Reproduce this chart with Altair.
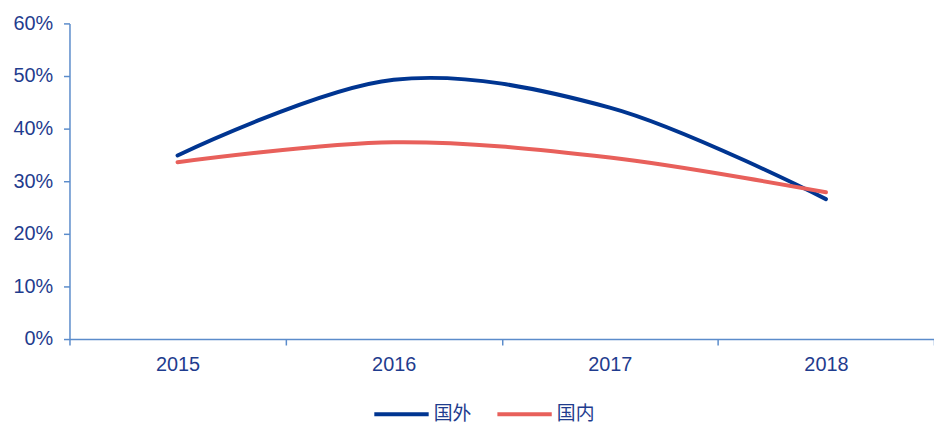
import altair as alt
import pandas as pd

years = ["2015", "2016", "2017", "2018"]
foreign = [0.349, 0.493, 0.440, 0.266]
domestic = [0.336, 0.374, 0.345, 0.279]
series_names = ["国外", "国内"]
series_colors = ["#003591", "#E8605B"]

rows = []
for name, vals in zip(series_names, [foreign, domestic]):
    for y, v in zip(years, vals):
        rows.append({"year": y, "value": v, "series": name})
df = pd.DataFrame(rows)

axis_color = "#5B8CCB"
label_color = "#1F3C8E"
font = "Liberation Sans"

chart = (
    alt.Chart(df)
    .mark_line(interpolate="catmull-rom", strokeWidth=4, strokeCap="round")
    .encode(
        x=alt.X(
            "year:N",
            sort=years,
            title=None,
            scale=alt.Scale(type="band", paddingInner=0, paddingOuter=0),
            axis=alt.Axis(
                labelAngle=0,
                tickBand="extent",
                domainColor=axis_color,
                tickColor=axis_color,
                domainWidth=1.5,
                tickWidth=1.5,
                tickSize=6,
                labelPadding=10,
                labelColor=label_color,
                labelFont=font,
                labelFontSize=20,
                grid=False,
            ),
        ),
        y=alt.Y(
            "value:Q",
            title=None,
            scale=alt.Scale(domain=[0, 0.6], nice=False, zero=True),
            axis=alt.Axis(
                format=".0%",
                values=[0, 0.1, 0.2, 0.3, 0.4, 0.5, 0.6],
                domainColor=axis_color,
                tickColor=axis_color,
                domainWidth=1.5,
                tickWidth=1.5,
                tickSize=6,
                labelPadding=11,
                labelColor=label_color,
                labelFont=font,
                labelFontSize=20,
                grid=False,
            ),
        ),
        color=alt.Color(
            "series:N",
            sort=series_names,
            scale=alt.Scale(domain=series_names, range=series_colors),
            legend=alt.Legend(
                title=None,
                orient="none",
                direction="horizontal",
                legendX=305,
                legendY=364,
                symbolType="stroke",
                symbolStrokeWidth=4,
                symbolSize=3000,
                labelFont="Noto Sans CJK SC",
                labelFontSize=19,
                labelColor=label_color,
                columnPadding=17,
                labelOffset=3,
            ),
        ),
    )
    .properties(
        width=871,
        height=318,
        background="white",
        autosize=alt.AutoSizeParams(type="none"),
        padding={"left": 70, "top": 22, "right": 0, "bottom": 83},
    )
    .configure_view(stroke=None, strokeWidth=0)
)

chart.save("out.html", embed_options={"renderer": "svg", "actions": False})
